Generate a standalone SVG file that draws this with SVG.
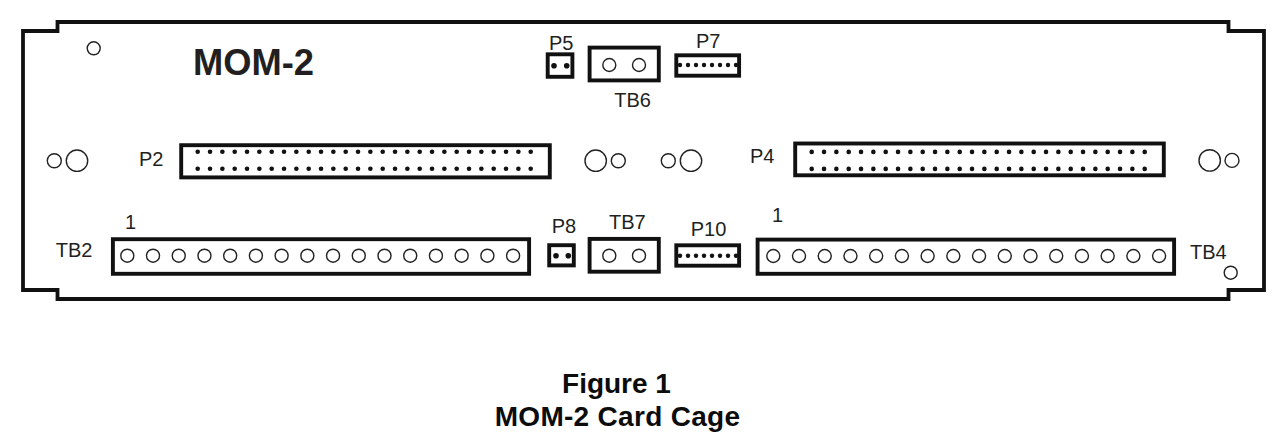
<svg xmlns="http://www.w3.org/2000/svg" width="1281" height="444" viewBox="0 0 1281 444">
<style>
text{font-family:"Liberation Sans",Arial,sans-serif;fill:#231f20}
.l{font-size:20px}
.t{font-size:36.3px;font-weight:bold}
.c{font-size:28px;font-weight:bold;text-anchor:middle;fill:#0c0c0c}
.b{fill:#fff;stroke:#111;stroke-width:3.9}
.o{fill:#fff;stroke:#222;stroke-width:1.4}
.d{fill:#111;stroke:none}
</style>
<defs>
<circle id="h" class="o" r="6.5"/>
<circle id="s" class="o" r="7"/>
<circle id="g" class="o" r="10.7"/>
<circle id="p" class="d" r="2.3"/>
<g id="col"><use href="#p"/><use href="#p" y="17"/></g>
<g id="row7"><use href="#col"/><use href="#col" x="12.33"/><use href="#col" x="24.67"/><use href="#col" x="37"/><use href="#col" x="49.33"/><use href="#col" x="61.67"/><use href="#col" x="74"/></g>
<g id="row28"><use href="#row7"/><use href="#row7" x="86.33"/><use href="#row7" x="172.67"/><use href="#row7" x="259"/></g>
<g id="t4"><use href="#h"/><use href="#h" x="25.72"/><use href="#h" x="51.44"/><use href="#h" x="77.16"/></g>
<g id="t16"><use href="#t4"/><use href="#t4" x="102.88"/><use href="#t4" x="205.76"/><use href="#t4" x="308.64"/></g>
<g id="p8"><circle class="d" r="2.2"/><circle class="d" cx="8" r="2.2"/><circle class="d" cx="16" r="2.2"/><circle class="d" cx="24" r="2.2"/><circle class="d" cx="32" r="2.2"/><circle class="d" cx="40" r="2.2"/><circle class="d" cx="48" r="2.2"/><circle class="d" cx="56" r="2.2"/></g>
</defs>

<g id="card-outline">
<path d="M23 290V31H57.5V22H1228.5V31H1264V290H1228.5V299H57.5V290Z" fill="#fff" stroke="#111" stroke-width="3.8"/>
</g>

<g id="title"><text class="t" x="193" y="75">MOM-2</text></g>

<g id="mount-holes">
<use href="#h" x="93.7" y="48.3"/>
<use href="#h" x="1230.7" y="272.7"/>
<use href="#s" x="54.3" y="160.7"/><use href="#g" x="77" y="160.7"/>
<use href="#g" x="595.7" y="160.7"/><use href="#s" x="618.3" y="160.7"/>
<use href="#s" x="668.3" y="160.7"/><use href="#g" x="691" y="160.7"/>
<use href="#g" x="1209.7" y="160.4"/><use href="#s" x="1232" y="160.4"/>
</g>

<g id="P5">
<text class="l" x="549" y="50">P5</text>
<rect class="b" x="547.7" y="54.3" width="24.7" height="22.5"/>
<circle class="d" cx="554" cy="65.7" r="2.8"/><circle class="d" cx="566.7" cy="65.7" r="2.8"/>
</g>

<g id="TB6">
<rect class="b" x="589.6" y="47.6" width="69.2" height="32.8"/>
<use href="#h" x="609.3" y="65"/><use href="#h" x="639" y="65"/>
<text class="l" x="614.3" y="107">TB6</text>
</g>

<g id="P7">
<text class="l" x="696" y="48">P7</text>
<rect class="b" x="676.3" y="55.3" width="62.8" height="20.4"/>
<use href="#p8" x="680" y="65"/>
</g>

<g id="P2">
<text class="l" x="139" y="166">P2</text>
<rect class="b" x="181.2" y="145.2" width="368.6" height="32.2"/>
<use href="#row28" x="197.7" y="151.7"/>
</g>

<g id="P4">
<text class="l" x="750" y="163.3">P4</text>
<rect class="b" x="795.2" y="143.5" width="368.6" height="31.8"/>
<use href="#row28" x="811.7" y="151.9"/>
</g>

<g id="TB2">
<text class="l" x="125" y="229">1</text>
<text class="l" x="55.7" y="256.7">TB2</text>
<rect class="b" x="112.9" y="239.2" width="416.2" height="34.6"/>
<use href="#t16" x="127.3" y="255.7"/>
</g>

<g id="P8">
<text class="l" x="551.7" y="233">P8</text>
<rect class="b" x="549.2" y="245.2" width="24.6" height="20.2"/>
<circle class="d" cx="556" cy="255.7" r="2.8"/><circle class="d" cx="568.3" cy="255.7" r="2.8"/>
</g>

<g id="TB7">
<text class="l" x="609" y="229">TB7</text>
<rect class="b" x="589.6" y="238.9" width="69.2" height="32.8"/>
<use href="#h" x="609.3" y="255.7"/><use href="#h" x="639" y="255.7"/>
</g>

<g id="P10">
<text class="l" x="690.7" y="236">P10</text>
<rect class="b" x="676.3" y="245.3" width="62.8" height="20.4"/>
<use href="#p8" x="680" y="255.7"/>
</g>

<g id="TB4">
<text class="l" x="772" y="221.7">1</text>
<text class="l" x="1190" y="259">TB4</text>
<rect class="b" x="757.6" y="239.6" width="416.5" height="34.2"/>
<use href="#t16" x="773.3" y="256"/>
</g>

<g id="caption">
<text class="c" x="616.5" y="392.7">Figure 1</text>
<text class="c" x="617.5" y="425.5" letter-spacing="0.3">MOM-2 Card Cage</text>
</g>
</svg>
